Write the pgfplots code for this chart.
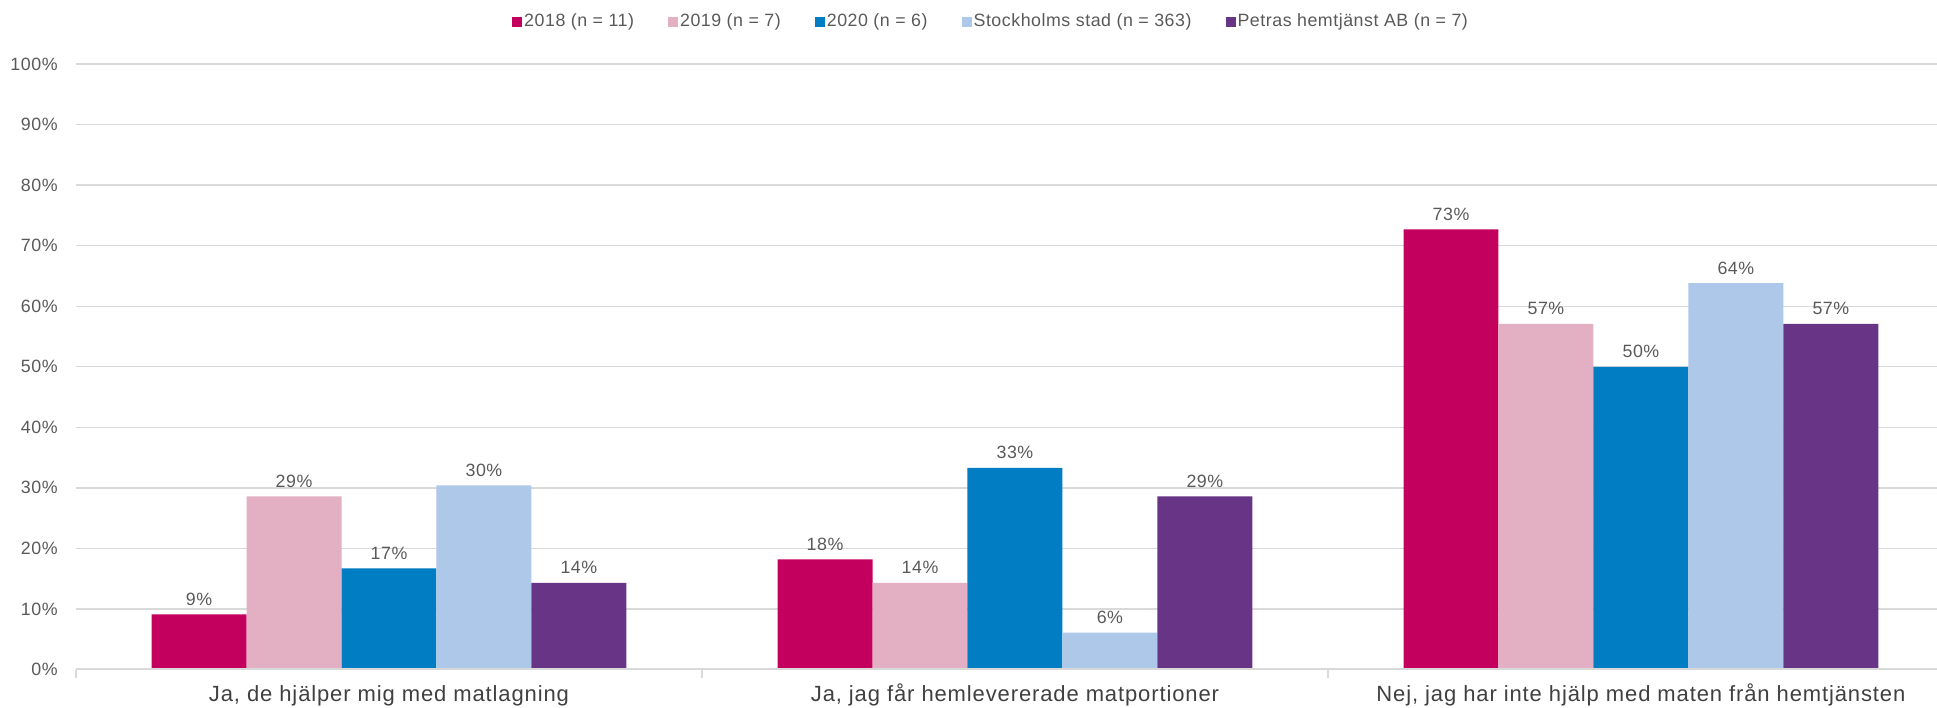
\documentclass[border=0pt]{standalone}
\usepackage{pgfplots}
\pgfplotsset{compat=1.18}
\usepackage{fontspec}
\setmainfont{Liberation Sans}
\newfontfamily\smallfam[LetterSpace=3]{Liberation Sans}
\newfontfamily\catfam[LetterSpace=4]{Liberation Sans}
\newcommand\smallfont{\smallfam\fontsize{8.9}{10.5}\selectfont}
\newcommand\catfont{\catfam\fontsize{11}{13}\selectfont}

\definecolor{c2018}{HTML}{C4005F}
\definecolor{c2019}{HTML}{E2B0C2}
\definecolor{c2020}{HTML}{007DC3}
\definecolor{csthlm}{HTML}{AEC8EA}
\definecolor{cpetras}{HTML}{683586}
\definecolor{gridgray}{HTML}{D9D9D9}
\definecolor{lblgray}{HTML}{595959}
\definecolor{catgray}{HTML}{404040}

\begin{document}
\begin{tikzpicture}
\begin{axis}[
  at={(0pt,0pt)}, anchor=south west,
  scale only axis, width=930.5pt, height=302.75pt,
  ybar=0pt, bar width=0.1517,
  xmin=-0.5, xmax=2.473, ymin=0, ymax=100,
  axis line style={draw=none},
  xtick={0,1,2},
  xticklabels={{Ja, de hjälper mig med matlagning},
               {Ja, jag får hemlevererade matportioner},
               {Nej, jag har inte hjälp med maten från hemtjänsten}},
  minor xtick={-0.5,0.5,1.5},
  xtick pos=bottom, ytick pos=left,
  xtick align=outside,
  major tick length=0pt, minor tick length=4pt,
  minor tick style={gridgray, line width=0.8pt},
  ytick={0,10,...,100},
  yticklabel={\pgfmathprintnumber{\tick}\%},
  /pgf/number format/assume math mode=true,
  ymajorgrids, grid style={gridgray, line width=0.65pt},
  xticklabel style={font=\catfont, text=catgray, anchor=base, yshift=-16.1pt},
  yticklabel style={font=\smallfont, text=lblgray, anchor=east, inner sep=0pt, xshift=-9pt},
  nodes near coords={\pgfmathprintnumber[fixed,precision=0]{\pgfplotspointmeta}\%},
  every node near coord/.append style={font=\smallfont, text=lblgray, anchor=base, inner sep=0pt, yshift=4.5pt},
  legend columns=5,
  legend style={draw=none, fill=none, at={(rel axis cs:0.4917,1.0694)}, anchor=center,
    font=\smallfont, text=lblgray,
    /tikz/every even column/.append style={column sep=16pt},
    nodes={inner sep=1pt}},
  legend image code/.code={\fill[#1] (0pt,-2.5pt) rectangle (5pt,2.5pt);},
]
\addplot[fill=c2018, draw=none] coordinates {(0,9.1) (1,18.2) (2,72.7)};
\addplot[fill=c2019, draw=none] coordinates {(0,28.6) (1,14.3) (2,57.1)};
\addplot[fill=c2020, draw=none] coordinates {(0,16.7) (1,33.3) (2,50.0)};
\addplot[fill=csthlm, draw=none] coordinates {(0,30.4) (1,6.1) (2,63.8)};
\addplot[fill=cpetras, draw=none] coordinates {(0,14.3) (1,28.6) (2,57.1)};
\legend{2018 (n = 11), 2019 (n = 7), 2020 (n = 6), Stockholms stad (n = 363), Petras hemtjänst AB (n = 7)}
\draw[gridgray, line width=1.2pt] (rel axis cs:0,0) -- (rel axis cs:1,0);
\end{axis}
\pgfresetboundingbox
\path[use as bounding box] (-38pt,-18.75pt) rectangle (930.5pt,334.75pt);
\end{tikzpicture}
\end{document}
